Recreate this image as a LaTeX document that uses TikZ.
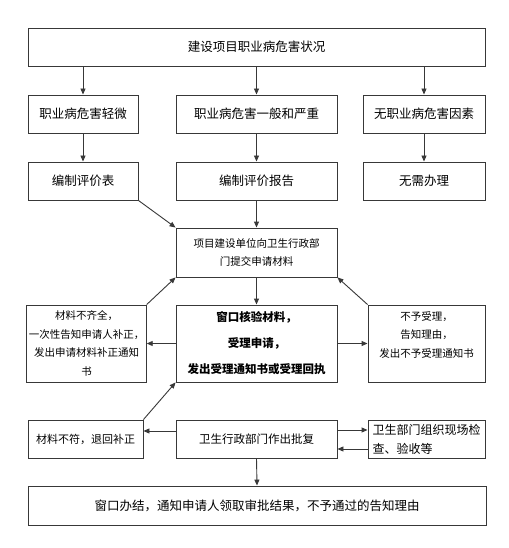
\documentclass[tikz,border=0pt]{standalone}
\usepackage{fontspec}
\setmainfont{Noto Sans CJK SC}
\usetikzlibrary{arrows.meta,positioning}
\definecolor{boxline}{gray}{0.22}

\begin{document}
\begin{tikzpicture}[x=1pt,y=-1pt,
  box/.style={draw=boxline, line width=0.9pt, fill=white, inner sep=2pt, align=center,
    font=\fontsize{12.5}{15}\selectfont},
  smallbox/.style={box, font=\fontsize{10.5}{18.5}\selectfont},
  flow/.style={draw=boxline, line width=0.9pt, -{Triangle[length=6pt,width=5pt]}}]
  \fill[white] (0,0) rectangle (508,548);
  \useasboundingbox (0,0) rectangle (508,548);

  % top
  \node[box, minimum width=457pt, minimum height=38pt] (status) at (256.5,47) {建设项目职业病危害状况};

  % three cases
  \node[box, minimum width=110pt, minimum height=38pt] (light) at (83,114) {职业病危害轻微};
  \node[box, minimum width=161pt, minimum height=38pt] (severe) at (256.5,114) {职业病危害一般和严重};
  \node[box, minimum width=122pt, minimum height=38pt] (none) at (424,114) {无职业病危害因素};

  \node[box, minimum width=110pt, minimum height=38pt] (table) at (83,181) {编制评价表};
  \node[box, minimum width=161pt, minimum height=38pt] (report) at (256.5,181) {编制评价报告};
  \node[box, minimum width=122pt, minimum height=38pt] (noneed) at (424,181) {无需办理};

  % application
  \node[smallbox, minimum width=161pt, minimum height=49pt] (submit) at (256.5,252.5)
    {项目建设单位向卫生行政部\\门提交申请材料};
  \node[box, minimum width=161pt, minimum height=77pt, font=\fontsize{11.5}{26}\selectfont\bfseries] (window) at (256.5,343.5)
    {窗口核验材料，\\受理申请，\\发出受理通知书或受理回执};
  \node[smallbox, minimum width=117pt, minimum height=77pt] (lack) at (86.5,343.5)
    {材料不齐全，\\一次性告知申请人补正，\\发出申请材料补正通知\\书};
  \node[smallbox, minimum width=117pt, minimum height=77pt] (reject) at (426.5,343.5)
    {不予受理，\\告知理由，\\发出不予受理通知书\\\mbox{}};

  % approval
  \node[box, minimum width=115pt, minimum height=38pt, font=\fontsize{11}{15}\selectfont] (wrong) at (85.5,439) {材料不符，退回补正};
  \node[box, minimum width=161pt, minimum height=38pt, font=\fontsize{11.5}{15}\selectfont] (reply) at (256.5,439) {卫生行政部门作出批复};
  \node[box, minimum width=117pt, minimum height=38pt, align=left, inner sep=1pt,
    font=\fontsize{12}{19}\selectfont] (inspect) at (426.5,439) {卫生部门组织现场检\\查、验收等};

  \node[box, minimum width=458pt, minimum height=39pt] (finish) at (257,505.5)
    {窗口办结，通知申请人领取审批结果，不予通过的告知理由};

  % arrows
  \foreach \a/\b in {light/table, severe/report, none/noneed}{
    \draw[flow] (\a.north |- status.south) -- (\a.north);
    \draw[flow] (\a.south) -- (\b.north);
  }
  \draw[flow] (table.south east) -- (submit.north west);
  \draw[flow] (report.south) -- (submit.north);
  \draw[flow] (submit.south) -- (window.north);
  \draw[flow] (window.west) -- (lack.east);
  \draw[flow] (window.east) -- (reject.west);
  \draw[flow] (lack.north east) -- (submit.south west);
  \draw[flow] (reject.north west) -- (submit.south east);
  \draw[flow] (wrong.north east) -- (window.south west);
  \draw[flow] ([yshift=8pt]reply.west) -- ([yshift=8pt]wrong.east);
  \draw[flow] ([yshift=9pt]reply.east) -- ([yshift=9pt]inspect.west);
  \draw[flow] ([yshift=-10pt]inspect.west) -- ([yshift=-10pt]reply.east);
  \draw[flow] (reply.south) -- (finish.north);
\end{tikzpicture}
\end{document}
